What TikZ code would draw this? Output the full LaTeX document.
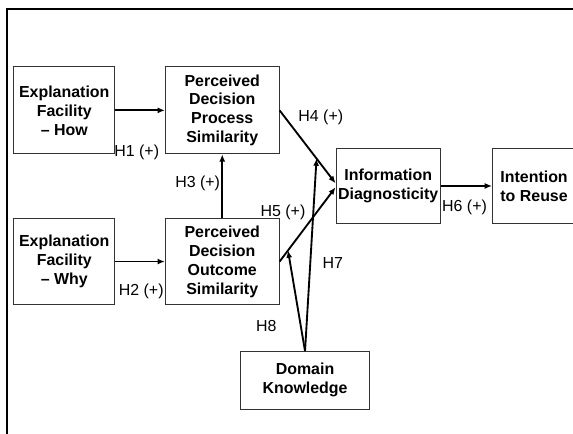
\documentclass[tikz,border=0pt]{standalone}
\usepackage{fontspec}
\setmainfont{Liberation Sans}
\usepackage{tikz}
\usetikzlibrary{arrows.meta}

\begin{document}
\begin{tikzpicture}[
construct/.style={rectangle, draw=black!80, line width=0.7pt, font=\fontsize{12}{14.3}\selectfont\bfseries, align=center, inner sep=1pt, minimum width=2.68cm, minimum height=2.3cm},
hyp/.style={font=\fontsize{12}{14.3}\selectfont, inner sep=1pt},
link/.style={->, line width=1.4pt},
>={Latex[length=5.5pt, width=4.5pt]}
]
\useasboundingbox (0,0) rectangle (15.16,-11.48);
%Frame
\draw[line width=1.5pt] (0.19,-11.7) -- (0.19,-0.25) -- (15.4,-0.25);
%Nodes
\node[construct]   (efhow)     at (1.7,-2.92)                                   {Explanation\\Facility\\– How};
\node[construct, minimum width=3.01cm]   (pdps)   [right of =efhow, xshift= 3.18cm]   {Perceived\\Decision\\Process\\Similarity};
\node[construct, minimum height=2.26cm]  (efwhy)  [below of =efhow, yshift= -3cm]     {Explanation\\Facility\\– Why};
\node[construct, minimum width=3.01cm, minimum height=2.26cm] (pdos) [below of =pdps, yshift= -3cm] {Perceived\\Decision\\Outcome\\Similarity};
\node[construct, minimum width=2.76cm, minimum height=2cm] (infodiag) [right of =pdps, xshift= 3.39cm, yshift= -2cm] {Information\\Diagnosticity};
\node[construct, minimum width=2.2cm, minimum height=2cm]  (intention) [right of =infodiag, xshift= 2.86cm] {Intention\\to Reuse};
\node[construct, minimum width=3.39cm, minimum height=1.52cm] (domain) [below of =pdos, xshift= 2.19cm, yshift= -2.14cm] {Domain\\Knowledge};
%Lines
\draw[link] (efhow) -- (pdps) node [hyp, midway, xshift=-0.09cm, yshift=-1.1cm] {H1 (+)};
\draw[link] (efwhy) -- (pdos) node [hyp, midway, xshift=0.03cm, yshift=-0.78cm] {H2 (+)};
\draw[link] (pdos) -- (pdps) node [hyp, midway, xshift=-0.65cm, yshift=0.09cm] {H3 (+)};
\draw[link] (pdps.east) -- coordinate[pos=0.66] (h4mid) ([yshift=2pt]infodiag.west) node [hyp, midway, xshift=0.35cm, yshift=0.79cm] {H4 (+)};
\draw[link] (pdos.east) -- coordinate[pos=0.15] (h5low) ([yshift=-1pt]infodiag.west) node [hyp, midway, xshift=-0.65cm, yshift=0.32cm] {H5 (+)};
\draw[link] (infodiag) -- (intention) node [hyp, midway, xshift=-0.05cm, yshift=-0.56cm] {H6 (+)};
\draw[link] (domain.north) -- (h4mid) node [hyp, midway, xshift=0.58cm, yshift=-0.22cm] {H7};
\draw[link] (domain.north) -- (h5low) node [hyp, midway, xshift=-0.8cm, yshift=-0.67cm] {H8};
\end{tikzpicture}
\end{document}
